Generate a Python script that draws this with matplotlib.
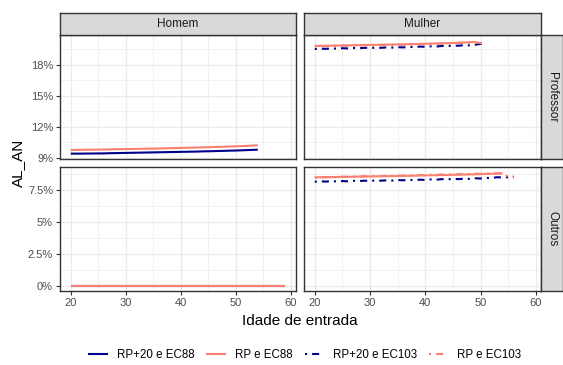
import matplotlib
matplotlib.use("Agg")
import matplotlib.pyplot as plt
from matplotlib.ticker import FuncFormatter, MultipleLocator
from matplotlib.lines import Line2D

plt.rcParams['font.family'] = ['Liberation Sans', 'DejaVu Sans']

# facets
sexos = ["Homem", "Mulher"]
grupos = ["Professor", "Outros"]
series = ["RP+20 e EC88", "RP e EC88", "RP+20 e EC103", "RP e EC103"]

# Homem / Professor (ages 20..54), values in %
hp_idade = list(range(20, 55))
hp_rp20_ec88 = [9.42, 9.42, 9.42, 9.43, 9.43, 9.44, 9.44, 9.46, 9.47, 9.48, 9.49, 9.50,
                9.51, 9.52, 9.53, 9.54, 9.55, 9.56, 9.57, 9.58, 9.59, 9.60, 9.61, 9.62,
                9.64, 9.65, 9.66, 9.68, 9.69, 9.71, 9.72, 9.74, 9.76, 9.78, 9.80]
hp_rp_ec88 = [9.77, 9.78, 9.79, 9.80, 9.80, 9.81, 9.82, 9.83, 9.84, 9.85, 9.86, 9.87,
              9.88, 9.89, 9.90, 9.91, 9.92, 9.93, 9.95, 9.96, 9.97, 9.99, 10.00, 10.01,
              10.03, 10.04, 10.06, 10.07, 10.09, 10.11, 10.13, 10.15, 10.17, 10.20, 10.23]

# Homem / Outros (ages 20..59)
ho_idade = list(range(20, 60))
ho_rp20_ec88 = [0.0] * 40
ho_rp_ec88 = [0.0] * 40

# Mulher / Professor
mp_idade88 = list(range(20, 50))
mp_rp_ec88 = [19.84, 19.85, 19.86, 19.87, 19.88, 19.89, 19.90, 19.91, 19.92, 19.93,
              19.94, 19.95, 19.96, 19.97, 19.98, 19.99, 20.00, 20.01, 20.03, 20.04,
              20.05, 20.07, 20.08, 20.10, 20.11, 20.13, 20.15, 20.17, 20.20, 20.23]
mp_idade103 = list(range(20, 52))
mp_rp20_ec103 = [19.55, 19.58, 19.56, 19.60, 19.58, 19.62, 19.60, 19.64, 19.62, 19.66,
                 19.64, 19.68, 19.66, 19.70, 19.68, 19.72, 19.70, 19.75, 19.73, 19.78,
                 19.76, 19.80, 19.78, 19.84, 19.82, 19.88, 19.86, 19.92, 19.90, 19.95,
                 20.05, 20.10]
mp_rp_ec103 = [19.80, 19.83, 19.82, 19.85, 19.84, 19.87, 19.86, 19.89, 19.88, 19.91,
               19.90, 19.93, 19.92, 19.95, 19.94, 19.97, 19.96, 19.99, 19.98, 20.02,
               20.01, 20.05, 20.04, 20.08, 20.07, 20.12, 20.11, 20.16, 20.16, 20.20,
               20.12, 20.12]

# Mulher / Outros
mo_idade88 = list(range(20, 55))
mo_rp_ec88 = [8.49, 8.50, 8.51, 8.51, 8.52, 8.53, 8.53, 8.54, 8.55, 8.55, 8.56, 8.57,
              8.58, 8.58, 8.59, 8.60, 8.61, 8.61, 8.62, 8.63, 8.64, 8.65, 8.66, 8.67,
              8.68, 8.69, 8.70, 8.71, 8.72, 8.73, 8.74, 8.76, 8.77, 8.78, 8.80]
mo_idade103 = list(range(20, 57))
mo_rp20_ec103 = [8.15, 8.18, 8.16, 8.19, 8.17, 8.20, 8.18, 8.22, 8.20, 8.23, 8.21, 8.25,
                 8.23, 8.26, 8.24, 8.28, 8.26, 8.29, 8.27, 8.31, 8.29, 8.33, 8.31, 8.35,
                 8.33, 8.37, 8.35, 8.39, 8.37, 8.42, 8.40, 8.45, 8.44, 8.50, 8.48, 8.50,
                 8.50]
mo_rp_ec103 = [8.47, 8.50, 8.49, 8.52, 8.51, 8.54, 8.53, 8.56, 8.55, 8.58, 8.57, 8.60,
               8.59, 8.62, 8.61, 8.64, 8.63, 8.66, 8.65, 8.68, 8.67, 8.70, 8.69, 8.72,
               8.71, 8.74, 8.73, 8.76, 8.75, 8.78, 8.77, 8.80, 8.79, 8.82, 8.80, 8.55,
               8.55]

cores = {"RP+20 e EC88": "#00008B", "RP e EC88": "#FA8072",
         "RP+20 e EC103": "#00008B", "RP e EC103": "#FA8072"}
dotdash = (0, (1, 2.4, 3.4, 2.4))
estilos = {"RP+20 e EC88": "-", "RP e EC88": "-",
           "RP+20 e EC103": dotdash, "RP e EC103": dotdash}

dados = {
    ("Homem", "Professor"): [("RP+20 e EC88", hp_idade, hp_rp20_ec88),
                             ("RP e EC88", hp_idade, hp_rp_ec88)],
    ("Homem", "Outros"): [("RP+20 e EC88", ho_idade, ho_rp20_ec88),
                          ("RP e EC88", ho_idade, ho_rp_ec88)],
    ("Mulher", "Professor"): [("RP e EC88", mp_idade88, mp_rp_ec88),
                              ("RP+20 e EC103", mp_idade103, mp_rp20_ec103),
                              ("RP e EC103", mp_idade103, mp_rp_ec103)],
    ("Mulher", "Outros"): [("RP e EC88", mo_idade88, mo_rp_ec88),
                           ("RP+20 e EC103", mo_idade103, mo_rp20_ec103),
                           ("RP e EC103", mo_idade103, mo_rp_ec103)],
}

ylims = {"Professor": (8.9, 20.9), "Outros": (-0.39, 9.3)}
yticks = {"Professor": [9, 12, 15, 18], "Outros": [0, 2.5, 5, 7.5]}

fig = plt.figure(figsize=(5.63, 3.65), dpi=100)
W, H = 563, 365
col_x = {"Homem": (60, 296), "Mulher": (304, 541)}
row_y = {"Professor": (35, 159), "Outros": (167, 291)}

border = "#333333"
grid = "#EBEBEB"
tickcol = "#4D4D4D"

def px_rect(x0, x1, y0, y1):
    return [x0 / W, 1 - y1 / H, (x1 - x0) / W, (y1 - y0) / H]

for s in sexos:
    for g in grupos:
        x0, x1 = col_x[s]
        y0, y1 = row_y[g]
        ax = fig.add_axes(px_rect(x0, x1, y0, y1))
        for nome, xs, ys in dados[(s, g)]:
            ax.plot(xs, ys, color=cores[nome], linestyle=estilos[nome], lw=1.5,
                    solid_capstyle="butt", dash_capstyle="butt")
        ax.set_xlim(18.05, 60.95)
        ax.set_ylim(*ylims[g])
        ax.set_xticks([20, 30, 40, 50, 60])
        ax.xaxis.set_minor_locator(MultipleLocator(5))
        ax.set_yticks(yticks[g])
        step = yticks[g][1] - yticks[g][0]
        ax.yaxis.set_minor_locator(MultipleLocator(step / 2))
        ax.grid(True, which="major", color=grid, lw=1.0)
        ax.grid(True, which="minor", color=grid, lw=0.5)
        ax.set_axisbelow(True)
        for sp in ax.spines.values():
            sp.set_color(border)
            sp.set_linewidth(1.0)
        ax.tick_params(which="minor", length=0)
        ax.tick_params(which="major", length=3, width=0.8, color=border,
                       labelsize=8, labelcolor=tickcol, pad=2)
        ax.yaxis.set_major_formatter(FuncFormatter(lambda v, p: f"{v:g}%"))
        if s != "Homem":
            ax.tick_params(axis="y", labelleft=False, length=0)
        if g != "Outros":
            ax.tick_params(axis="x", labelbottom=False, length=0)

# strips
for s in sexos:
    x0, x1 = col_x[s]
    sa = fig.add_axes(px_rect(x0, x1, 13, 35))
    sa.set_facecolor("#D9D9D9")
    sa.set_xticks([]); sa.set_yticks([])
    for sp in sa.spines.values():
        sp.set_color(border); sp.set_linewidth(1.0)
    sa.text(0.5, 0.5, s, ha="center", va="center", fontsize=8.5, color="#1A1A1A",
            transform=sa.transAxes)
for g in grupos:
    y0, y1 = row_y[g]
    sa = fig.add_axes(px_rect(541, 563, y0, y1))
    sa.set_facecolor("#D9D9D9")
    sa.set_xticks([]); sa.set_yticks([])
    for sp in sa.spines.values():
        sp.set_color(border); sp.set_linewidth(1.0)
    sa.text(0.5, 0.5, g, ha="center", va="center", fontsize=8.5, color="#1A1A1A",
            rotation=-90, transform=sa.transAxes)

fig.text(300 / W, 1 - 321 / H, "Idade de entrada", ha="center", va="center", fontsize=11)
fig.text(18 / W, 1 - 163 / H, "AL_AN", ha="center", va="center", fontsize=11, rotation=90)

handles = [Line2D([0], [0], color=cores[n], linestyle=estilos[n], lw=1.5) for n in series]
fig.legend(handles, series, loc="center", bbox_to_anchor=(305 / W, 1 - 355 / H), ncol=4,
           frameon=False, fontsize=8.3, handlelength=1.6, columnspacing=1.1,
           handletextpad=0.8)

fig.savefig("out.png", dpi=100)
